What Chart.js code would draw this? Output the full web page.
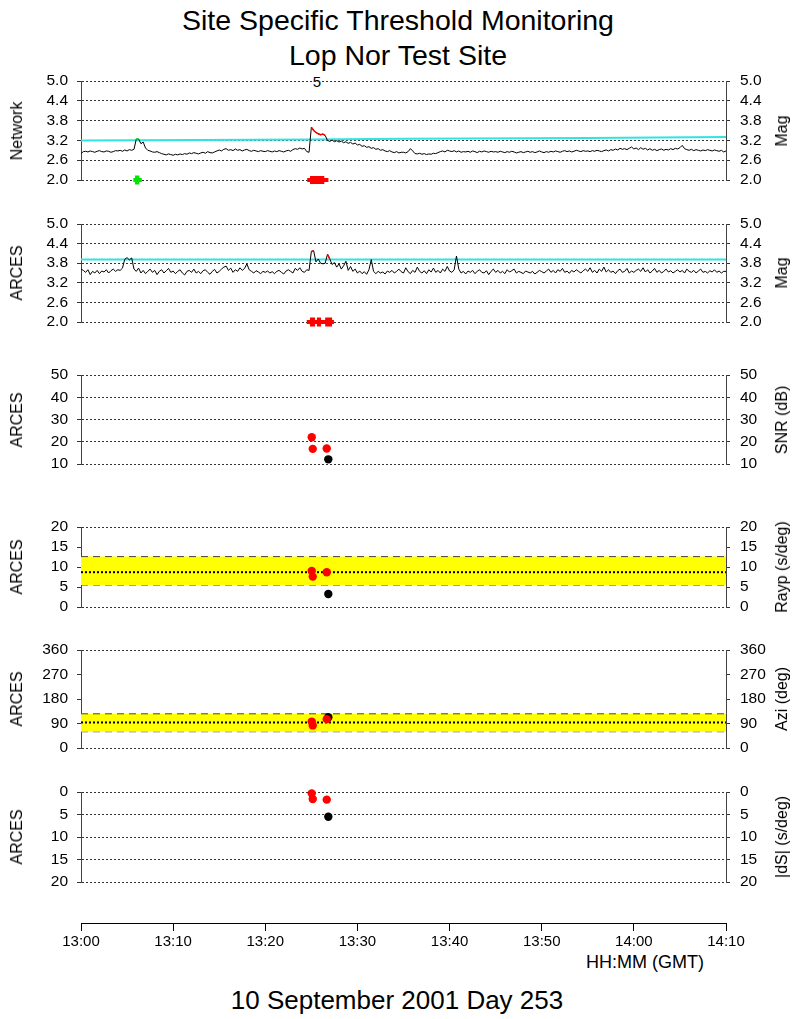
<!DOCTYPE html>
<html><head><meta charset="utf-8">
<script src="https://cdn.jsdelivr.net/npm/chart.js@4.4.1/dist/chart.umd.min.js"></script>
<style>
html,body{margin:0;padding:0;background:#fff;}
body{width:794px;height:1019px;position:relative;overflow:hidden;font-family:"Liberation Sans",Arial,sans-serif;color:#000;}
canvas{position:absolute;left:0;}
.t{position:absolute;white-space:nowrap;line-height:1;color:#000;}
.c{transform:translateX(-50%);}
.r{position:absolute;white-space:nowrap;line-height:1;font-size:16px;color:#000;transform:translate(-50%,-50%) rotate(-90deg);}
</style></head><body>
<div class="t c" style="left:398px;top:6px;font-size:28.5px;">Site Specific Threshold Monitoring</div>
<div class="t c" style="left:398px;top:41px;font-size:28.5px;">Lop Nor Test Site</div>
<div class="t c" style="left:317px;top:74px;font-size:15px;">5</div>
<div class="t" style="left:586px;top:953px;font-size:18px;">HH:MM (GMT)</div>
<div class="t c" style="left:397px;top:987px;font-size:26px;">10 September 2001 Day 253</div>
<script>
// ---------------- DATA ----------------
const STEP = 0.25;               // minutes between samples, from 13:00
const timeTicks  = [0, 10, 20, 30, 40, 50, 60, 70];
const timeLabels = ['13:00','13:10','13:20','13:30','13:40','13:50','14:00','14:10'];

const magTicks  = [2.0, 2.6, 3.2, 3.8, 4.4, 5.0];
const snrTicks  = [10, 20, 30, 40, 50];
const raypTicks = [0, 5, 10, 15, 20];
const aziTicks  = [0, 90, 180, 270, 360];
const dsTicks   = [0, 5, 10, 15, 20];

// Network magnitude trace (every 0.25 min)
const netMag = [
 2.80,2.86,2.87,2.85,2.88,2.86,2.84,2.87,2.89,2.86,2.85,2.88,2.87,2.84,2.86,2.89,2.88,2.90,2.87,2.91,
 2.88,2.92,2.90,2.93,3.24,3.24,3.10,3.15,2.97,2.90,2.88,2.85,2.84,2.86,2.83,2.80,2.78,2.76,2.79,2.77,
 2.75,2.78,2.76,2.79,2.77,2.80,2.78,2.82,2.80,2.83,2.81,2.79,2.82,2.84,2.81,2.86,2.83,2.82,2.85,2.88,
 2.91,2.88,2.93,2.95,2.90,2.92,2.89,2.94,2.90,2.92,2.88,2.91,2.93,2.89,2.87,2.90,2.88,2.86,2.89,2.87,
 2.86,2.89,2.87,2.85,2.88,2.86,2.89,2.87,2.85,2.88,2.90,2.87,2.92,2.95,2.93,2.97,2.94,2.96,2.86,2.84,
 3.60,3.50,3.44,3.40,3.37,3.39,3.35,3.20,3.17,3.21,3.16,3.19,3.15,3.18,3.13,3.16,3.11,3.14,3.09,3.12,
 3.06,3.08,3.02,3.04,2.99,3.01,2.96,2.98,2.93,2.95,2.90,2.92,2.88,2.86,2.89,2.85,2.83,2.86,2.82,2.84,
 2.84,2.82,2.86,2.95,2.88,2.80,2.79,2.81,2.78,2.80,2.77,2.79,2.78,2.81,2.80,2.83,2.86,2.88,2.85,2.90,
 2.88,2.86,2.89,2.85,2.88,2.84,2.86,2.85,2.87,2.84,2.88,2.86,2.83,2.87,2.85,2.88,2.86,2.84,2.87,2.85,
 2.86,2.84,2.87,2.85,2.83,2.86,2.84,2.87,2.85,2.82,2.84,2.86,2.83,2.85,2.87,2.84,2.86,2.83,2.85,2.88,
 2.85,2.83,2.86,2.84,2.87,2.85,2.88,2.86,2.84,2.87,2.89,2.86,2.88,2.85,2.87,2.90,2.88,2.86,2.89,2.87,
 2.88,2.86,2.89,2.87,2.90,2.88,2.86,2.89,2.91,2.88,2.92,2.90,2.94,2.91,2.96,2.93,2.95,2.92,2.96,3.00,
 2.94,2.97,2.92,2.98,2.93,2.96,2.91,2.95,2.90,2.93,2.89,2.92,2.94,2.90,2.93,2.91,2.95,2.92,2.96,2.94,
 2.98,3.05,2.95,2.92,2.90,2.93,2.89,2.92,2.90,2.88,2.91,2.89,2.92,2.90,2.88,2.91,2.89,2.87,2.90,2.85,
 2.88
];
// ARCES magnitude trace (every 0.25 min)
const arcMag = [
 3.62,3.58,3.52,3.60,3.45,3.55,3.50,3.58,3.48,3.56,3.53,3.60,3.50,3.57,3.62,3.55,3.60,3.58,3.65,3.92,
 3.97,3.90,3.96,3.62,3.55,3.65,3.50,3.58,3.48,3.55,3.62,3.52,3.58,3.45,3.55,3.60,3.50,3.57,3.64,3.52,
 3.56,3.48,3.55,3.60,3.50,3.44,3.55,3.58,3.52,3.62,3.50,3.55,3.48,3.57,3.60,3.52,3.46,3.55,3.61,3.50,
 3.55,3.62,3.68,3.71,3.58,3.65,3.52,3.60,3.55,3.66,3.58,3.64,3.78,3.60,3.55,3.50,3.57,3.53,3.48,3.55,
 3.52,3.56,3.50,3.54,3.48,3.55,3.58,3.52,3.47,3.56,3.60,3.55,3.50,3.64,3.58,3.66,3.55,3.52,3.60,3.58,
 4.16,4.18,3.84,3.93,3.80,3.78,3.80,4.07,3.93,3.76,3.82,3.68,3.78,3.62,3.72,3.86,3.58,3.70,3.55,3.62,
 3.50,3.56,3.48,3.54,3.46,3.60,3.91,3.55,3.48,3.55,3.50,3.53,3.47,3.56,3.52,3.58,3.50,3.55,3.62,3.54,
 3.50,3.66,3.54,3.48,3.58,3.52,3.68,3.55,3.50,3.57,3.48,3.60,3.53,3.65,3.52,3.58,3.50,3.62,3.55,3.70,
 3.56,3.52,3.60,4.02,3.62,3.50,3.55,3.47,3.56,3.52,3.58,3.48,3.55,3.60,3.52,3.50,3.57,3.45,3.55,3.62,
 3.52,3.58,3.50,3.55,3.48,3.60,3.53,3.57,3.62,3.50,3.55,3.52,3.48,3.56,3.53,3.50,3.55,3.47,3.52,3.58,
 3.54,3.50,3.56,3.62,3.52,3.58,3.50,3.60,3.55,3.64,3.52,3.56,3.49,3.58,3.53,3.60,3.55,3.50,3.57,3.62,
 3.55,3.66,3.52,3.58,3.50,3.62,3.55,3.68,3.53,3.60,3.52,3.56,3.48,3.57,3.62,3.52,3.55,3.64,3.50,3.56,
 3.52,3.58,3.62,3.55,3.66,3.53,3.60,3.50,3.56,3.64,3.52,3.58,3.50,3.55,3.62,3.53,3.57,3.50,3.55,3.60,
 3.53,3.58,3.50,3.62,3.55,3.52,3.58,3.50,3.56,3.62,3.52,3.55,3.50,3.57,3.53,3.60,3.52,3.56,3.50,3.55,
 3.55
];

// thresholds
const netThrT = [0, 25, 35, 55, 70];
const netThrV = [3.20, 3.23, 3.25, 3.27, 3.30];
const arcThrT = [0, 70];
const arcThrV = [3.91, 3.91];

// exceedances (coloured parts of the traces)
const netAlertT = [25.0, 25.25, 25.5, 25.75, 26.0, 26.25, 26.5];
const netAlertV = [3.60, 3.50, 3.44, 3.40, 3.37, 3.39, 3.35];
const netEarlyT = [6.0, 6.25];
const netEarlyV = [3.24, 3.24];
const arcAlertT = [25.0, 25.25, 25.5, 26.75, 27.0];
const arcAlertV = [4.16, 4.18, null, 4.07, 3.93];

// detection markers (time intervals, minutes)
const detLevel = 2.0;
const netDetThin   = [[24.55, 26.85]];
const netDetThick  = [[24.85, 26.40]];
const netEarlyThin = [[5.68, 6.60]];
const netEarlyThick= [[5.86, 6.33]];
const arcDetThin   = [[24.50, 27.45]];
const arcDetThick  = [[24.85, 25.40], [25.60, 26.05], [26.50, 27.25]];

// event parameters
const evRedT   = [25.04, 25.15, 26.67];
const evBlackT = [26.84];
const snrRed   = [22.0, 16.8, 17.0];
const snrBlack = [12.1];
const raypRed  = [9.0, 7.6, 8.7];
const raypBlack= [3.25];
const aziRed   = [97, 83, 106];
const aziBlack = [113];
const dsRed    = [0.3, 1.55, 1.7];
const dsBlack  = [5.5];

const raypBand = [5.5, 12.6], raypCentre = 8.7;
const aziBand  = [59.7, 125.6], aziCentre = 93.8;

// ---------------- DRAWING ----------------
const FONT = '"Liberation Sans", Arial, sans-serif';
Chart.defaults.font.family = FONT;
Chart.defaults.color = '#000';
const X_MIN = 0, X_MAX = 70, PAD = 30;

const pts = (ts, vs) => ts.map((t, i) => ({x: t, y: vs[i]}));
const sampled = vs => vs.map((v, i) => ({x: i * STEP, y: v}));
const hline = v => [{x: X_MIN, y: v}, {x: X_MAX, y: v}];
const intervals = (list, y) => list.flatMap(([a, b]) => [{x: a, y: y}, {x: b, y: y}, {x: b, y: null}]);

function line(data, color, width, extra) {
  return Object.assign({data, borderColor: color, backgroundColor: color, borderWidth: width,
    pointRadius: 0, fill: false, spanGaps: false, borderCapStyle: 'butt', clip: false}, extra || {});
}
function dots(data, color) {
  return {data, showLine: false, pointRadius: 4.2, pointBackgroundColor: color,
    pointBorderWidth: 0, borderColor: color, backgroundColor: color, clip: false};
}
function band(lohi, centre) {
  return [
    line(hline(centre), '#000', 2, {borderDash: [2, 2]}),
    line(hline(lohi[1]), '#444', 1, {borderDash: [7, 5], fill: '+1', backgroundColor: '#ffff00'}),
    line(hline(lohi[0]), '#444', 1, {borderDash: [7, 5]})
  ];
}

function yAxis(p, side) {
  return {
    type: 'linear', position: side, min: p.min, max: p.max, reverse: !!p.reverse,
    afterFit: s => { s.width = side === 'left' ? 81 : 68; },
    afterBuildTicks: s => { s.ticks = p.ticks.map(v => ({value: v})); },
    ticks: {font: {size: 15.5, family: FONT}, color: '#000', padding: side === 'left' ? 9 : 10,
      autoSkip: false, callback: v => p.dec ? Number(v).toFixed(p.dec) : String(v)},
    grid: {display: true, drawOnChartArea: side === 'left', drawTicks: true, tickLength: 4,
      lineWidth: 1, tickColor: '#333', tickBorderDash: [],
      color: ctx => (p.edgeGridOnly && ctx.tick && ctx.tick.value !== p.min && ctx.tick.value !== p.max)
        ? 'rgba(0,0,0,0)' : '#333'},
    border: {display: true, color: '#444', width: 1, dash: [2, 2]}
  };
}

function makePanel(p) {
  const c = document.createElement('canvas');
  c.width = 794; c.height = p.bottom - p.top + 2 * PAD;
  c.style.top = (p.top - PAD) + 'px';
  document.body.appendChild(c);
  new Chart(c, {
    type: 'line',
    data: {datasets: p.datasets},
    options: {
      responsive: false, animation: false, devicePixelRatio: 1, events: [],
      layout: {padding: {top: PAD, bottom: PAD, left: 0, right: 0}},
      plugins: {legend: {display: false}, tooltip: {enabled: false}},
      elements: {line: {tension: 0}},
      scales: {x: {type: 'linear', min: X_MIN, max: X_MAX, display: false},
               y: yAxis(p, 'left'), y2: yAxis(p, 'right')}
    }
  });
  const mid = (p.top + p.bottom) / 2;
  const l = document.createElement('div'); l.className = 'r'; l.textContent = p.leftTitle;
  l.style.left = '17px'; l.style.top = mid + 'px'; document.body.appendChild(l);
  const r = document.createElement('div'); r.className = 'r'; r.textContent = p.rightTitle;
  r.style.left = '782px'; r.style.top = mid + 'px'; document.body.appendChild(r);
}

const panels = [
  {top: 81, bottom: 180, min: 2, max: 5, ticks: magTicks, dec: 1, leftTitle: 'Network', rightTitle: 'Mag',
   datasets: [
     line(intervals(netEarlyThick, detLevel), '#00e600', 9),
     line(intervals(netEarlyThin, detLevel), '#00e600', 4),
     line(intervals(netDetThick, detLevel), '#ff0000', 8),
     line(intervals(netDetThin, detLevel), '#ff0000', 4),
     line(pts(netEarlyT, netEarlyV), '#00e600', 2),
     line(pts(netAlertT, netAlertV), '#ff0000', 1.5),
     line(sampled(netMag), '#000', 1),
     line(pts(netThrT, netThrV), '#30e4e4', 2)
   ]},
  {top: 224, bottom: 322, min: 2, max: 5, ticks: magTicks, dec: 1, leftTitle: 'ARCES', rightTitle: 'Mag',
   datasets: [
     line(intervals(arcDetThick, detLevel), '#ff0000', 9),
     line(intervals(arcDetThin, detLevel), '#ff0000', 4),
     line(pts(arcAlertT, arcAlertV), '#ff0000', 1.5),
     line(sampled(arcMag), '#000', 1),
     line(pts(arcThrT, arcThrV), '#30e4e4', 2)
   ]},
  {top: 375, bottom: 464, min: 10, max: 50, ticks: snrTicks, leftTitle: 'ARCES', rightTitle: 'SNR (dB)',
   datasets: [dots(pts(evRedT, snrRed), '#ff0000'), dots(pts(evBlackT, snrBlack), '#000')]},
  {top: 527, bottom: 607, min: 0, max: 20, ticks: raypTicks, edgeGridOnly: true, leftTitle: 'ARCES', rightTitle: 'Rayp (s/deg)',
   datasets: [dots(pts(evRedT, raypRed), '#ff0000'), dots(pts(evBlackT, raypBlack), '#000')].concat(band(raypBand, raypCentre))},
  {top: 650, bottom: 748, min: 0, max: 360, ticks: aziTicks, edgeGridOnly: true, leftTitle: 'ARCES', rightTitle: 'Azi (deg)',
   datasets: [dots(pts(evRedT, aziRed), '#ff0000'), dots(pts(evBlackT, aziBlack), '#000')].concat(band(aziBand, aziCentre))},
  {top: 792, bottom: 882, min: 0, max: 20, reverse: true, ticks: dsTicks, leftTitle: 'ARCES', rightTitle: '|dS| (s/deg)',
   datasets: [dots(pts(evRedT, dsRed), '#ff0000'), dots(pts(evBlackT, dsBlack), '#000')]}
];
panels.forEach(makePanel);

// time axis
(function () {
  const c = document.createElement('canvas');
  c.width = 794; c.height = 90; c.style.top = '880px';
  document.body.appendChild(c);
  new Chart(c, {
    type: 'line', data: {datasets: []},
    options: {
      responsive: false, animation: false, devicePixelRatio: 1, events: [],
      layout: {padding: {top: 10, bottom: 0, left: 81, right: 68}},
      plugins: {legend: {display: false}, tooltip: {enabled: false}},
      scales: {
        x: {type: 'linear', position: 'bottom', min: X_MIN, max: X_MAX,
            afterFit: s => { s.height = 47; },
            afterBuildTicks: s => { s.ticks = timeTicks.map(v => ({value: v})); },
            ticks: {font: {size: 15, family: FONT}, color: '#000', padding: 2, maxRotation: 0, autoSkip: false,
                    callback: (v, i) => timeLabels[i]},
            grid: {display: true, drawOnChartArea: false, drawTicks: true, tickLength: 8, color: '#000'},
            border: {display: true, color: '#000', width: 1}},
        y: {display: false, min: 0, max: 1}
      }
    }
  });
})();
</script>
</body></html>
